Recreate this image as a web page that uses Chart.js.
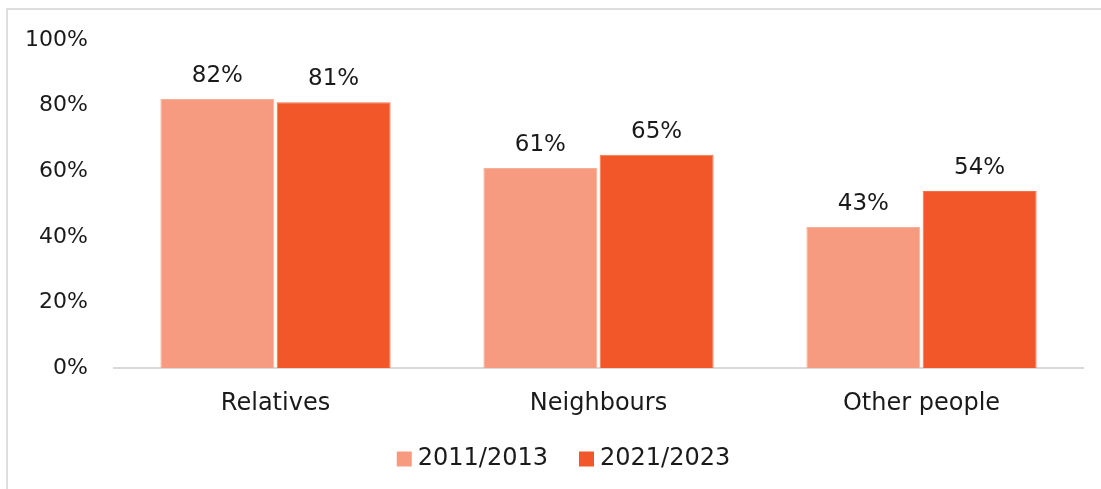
<!DOCTYPE html>
<html>
<head>
<meta charset="utf-8">
<script src="https://cdn.jsdelivr.net/npm/chart.js@4/dist/chart.umd.min.js"></script>
<style>
    html, body { margin: 0; padding: 0; background: #fff; }
    #wrap { position: relative; width: 1101px; height: 489px; }
</style>
</head>
<body>
<div id="wrap"><canvas id="mainChart" width="1101" height="489"></canvas></div>
<script>
// chart data
const categories = ['Relatives', 'Neighbours', 'Other people'];
const seriesNames = ['2011/2013', '2021/2023'];
const values2011 = [82, 61, 43];
const values2021 = [81, 65, 54];
const yTicks = [0, 20, 40, 60, 80, 100];

const colors = ['#f79b80', '#f2572a'];
const edgeColors = ['#f9ae98', '#f47048'];
const FONT = "'DejaVu Sans', sans-serif";
const TEXT = '#1a1a1a';

// frame lines (top + left only, like the original)
const framePlugin = {
    id: 'frame',
    beforeDraw(chart) {
        const ctx = chart.ctx;
        ctx.save();
        ctx.strokeStyle = '#dedede';
        ctx.lineWidth = 2;
        ctx.beginPath();
        ctx.moveTo(7, 489);
        ctx.lineTo(7, 9);
        ctx.lineTo(1101, 9);
        ctx.stroke();
        ctx.restore();
    }
};

// value labels above each bar
const valueLabels = {
    id: 'valueLabels',
    afterDatasetsDraw(chart) {
        const ctx = chart.ctx;
        ctx.save();
        ctx.font = '23px ' + FONT;
        ctx.fillStyle = TEXT;
        ctx.textAlign = 'center';
        ctx.textBaseline = 'alphabetic';
        chart.data.datasets.forEach((ds, i) => {
            chart.getDatasetMeta(i).data.forEach((bar, j) => {
                ctx.fillText(ds.data[j] + '%', bar.x, bar.y - 17);
            });
        });
        ctx.restore();
    }
};

// legend drawn by hand so it sits where the original does
const bottomLegend = {
    id: 'bottomLegend',
    afterDraw(chart) {
        const ctx = chart.ctx;
        ctx.save();
        ctx.font = '24px ' + FONT;
        const box = 15, gapText = 6, gapItem = 31;
        const items = chart.data.datasets.map(ds => ({
            label: ds.label, color: ds.backgroundColor, w: ctx.measureText(ds.label).width
        }));
        let total = 0;
        items.forEach((it, i) => { total += box + gapText + it.w + (i ? gapItem : 0); });
        let x = 563.5 - total / 2;
        const cy = 459;
        items.forEach(it => {
            ctx.fillStyle = it.color;
            ctx.fillRect(x, cy - box / 2, box, box);
            x += box + gapText;
            ctx.fillStyle = TEXT;
            ctx.textAlign = 'left';
            ctx.textBaseline = 'middle';
            ctx.fillText(it.label, x, cy);
            x += it.w + gapItem;
        });
        ctx.restore();
    }
};

const ctx = document.getElementById('mainChart').getContext('2d');
new Chart(ctx, {
    type: 'bar',
    data: {
        labels: categories,
        datasets: [
            {
                label: seriesNames[0],
                data: values2011,
                backgroundColor: colors[0],
                borderColor: edgeColors[0],
                borderWidth: 1,
                categoryPercentage: 0.72,
                barPercentage: 0.98
            },
            {
                label: seriesNames[1],
                data: values2021,
                backgroundColor: colors[1],
                borderColor: edgeColors[1],
                borderWidth: 1,
                categoryPercentage: 0.72,
                barPercentage: 0.98
            }
        ]
    },
    options: {
        responsive: false,
        animation: false,
        layout: { padding: { top: 40, right: 18, bottom: 0, left: 0 } },
        plugins: {
            legend: { display: false },
            tooltip: { enabled: false }
        },
        scales: {
            x: {
                grid: { display: false },
                border: { display: true, color: '#d9d9d9', width: 2 },
                ticks: {
                    color: TEXT,
                    font: { family: FONT, size: 24 },
                    padding: 13
                },
                afterFit(scale) { scale.height = 121; }
            },
            y: {
                min: 0,
                max: 100,
                grid: { display: false },
                border: { display: false },
                afterBuildTicks(scale) {
                    scale.ticks = yTicks.map(v => ({ value: v }));
                },
                ticks: {
                    color: TEXT,
                    font: { family: FONT, size: 22 },
                    padding: 18,
                    callback: v => v + '%'
                },
                afterFit(scale) { scale.width = 114; }
            }
        }
    },
    plugins: [framePlugin, valueLabels, bottomLegend]
});
</script>
</body>
</html>
